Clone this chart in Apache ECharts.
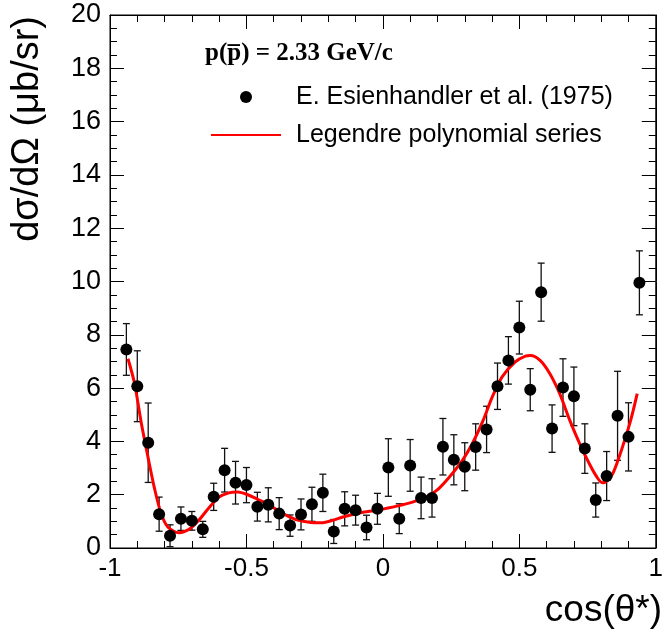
<!DOCTYPE html>
<html>
<head>
<meta charset="utf-8">
<script src="https://cdn.jsdelivr.net/npm/echarts@6/dist/echarts.min.js"></script>
<style>
html,body{margin:0;padding:0;background:#fff;}
#chart{width:666px;height:637px;}
</style>
</head>
<body>
<div id="chart"></div>
<script>
// Data
const cosTheta = [-0.94,-0.90,-0.86,-0.82,-0.78,-0.74,-0.70,-0.66,-0.62,-0.58,-0.54,-0.50,-0.46,-0.42,-0.38,-0.34,-0.30,-0.26,-0.22,-0.18,-0.14,-0.10,-0.06,-0.02,0.02,0.06,0.10,0.14,0.18,0.22,0.26,0.30,0.34,0.38,0.42,0.46,0.50,0.54,0.58,0.62,0.66,0.70,0.74,0.78,0.82,0.86,0.90,0.94];
const dsigma = [7.45,6.07,3.95,1.27,0.46,1.10,1.02,0.70,1.92,2.92,2.45,2.36,1.55,1.62,1.29,0.84,1.26,1.64,2.07,0.62,1.47,1.42,0.77,1.47,3.02,1.10,3.10,1.88,1.88,3.80,3.31,3.05,3.79,4.45,6.07,7.04,8.27,5.94,9.60,4.48,6.02,5.69,3.73,1.80,2.70,4.96,4.17,9.95];
const dsigmaErr = [0.97,1.33,1.49,0.64,0.41,0.44,0.35,0.30,0.51,0.82,0.80,0.66,0.54,0.64,0.60,0.40,0.58,0.64,0.70,0.45,0.64,0.56,0.46,0.58,1.08,0.56,0.97,0.78,0.72,1.06,0.94,0.90,0.87,0.87,0.87,0.89,0.99,0.79,1.09,0.89,1.08,1.10,0.93,0.64,0.92,1.67,1.28,1.20];
const fitX = [-0.934,-0.91,-0.885,-0.861,-0.837,-0.813,-0.789,-0.747,-0.71,-0.674,-0.638,-0.602,-0.565,-0.532,-0.493,-0.457,-0.42,-0.384,-0.348,-0.312,-0.264,-0.22,-0.19,-0.143,-0.082,-0.022,0.051,0.111,0.159,0.196,0.24,0.292,0.328,0.365,0.401,0.437,0.485,0.522,0.54,0.576,0.612,0.648,0.685,0.721,0.757,0.785,0.804,0.825,0.845,0.878,0.908,0.932];
const fitY = [7.10,6.17,4.67,3.42,2.24,1.30,0.80,0.57,0.70,1.05,1.50,1.90,2.07,2.10,1.99,1.82,1.64,1.40,1.20,1.05,0.96,0.95,1.02,1.17,1.32,1.42,1.57,1.73,1.92,2.15,2.62,3.30,3.92,4.73,5.67,6.42,6.98,7.20,7.22,7.04,6.54,5.79,4.79,3.92,3.15,2.65,2.45,2.55,2.85,3.79,4.79,5.79];
const xTicks = [-1, -0.5, 0, 0.5, 1];
const yTicks = [0, 2, 4, 6, 8, 10, 12, 14, 16, 18, 20];
const dataName = 'E. Esienhandler et al. (1975)';
const fitName = 'Legendre polynomial series';
const headerText = 'p(p\u0305) = 2.33 GeV/c';
const xTitle = 'cos(\u03b8*)';
const yTitle = 'd\u03c3/d\u03a9 (\u03bcb/sr)';

const pts = cosTheta.map((x, i) => [x, dsigma[i]]);
const errs = cosTheta.map((x, i) => [x, dsigma[i], dsigmaErr[i]]);
const fit = fitX.map((x, i) => [x, fitY[i]]);

const FONT = '"Liberation Sans", Arial, Helvetica, sans-serif';
const tickCommon = {
  axisLine: {show: true, onZero: false, lineStyle: {color: '#000', width: 1}},
  axisTick: {show: true, inside: true, length: 14, lineStyle: {color: '#000', width: 1}},
  minorTick: {show: true, length: 7, lineStyle: {color: '#000', width: 1}},
  splitLine: {show: false},
  minorSplitLine: {show: false}
};

const chart = echarts.init(document.getElementById('chart'), null, {renderer: 'canvas'});
const option = {
  animation: false,
  backgroundColor: '#fff',
  grid: {left: 110, right: 4, top: 15, bottom: 89, show: true, borderColor: '#000', borderWidth: 1},
  xAxis: [
    Object.assign({
      type: 'value', min: xTicks[0], max: xTicks[xTicks.length - 1], interval: 0.5, position: 'bottom',
      axisLabel: {show: true, fontSize: 26, color: '#000', fontFamily: FONT, margin: 8,
        formatter: v => String(v)}
    }, tickCommon, {minorTick: Object.assign({}, tickCommon.minorTick, {splitNumber: 5})}),
    Object.assign({
      type: 'value', min: xTicks[0], max: xTicks[xTicks.length - 1], interval: 0.5, position: 'top',
      axisLabel: {show: false}
    }, tickCommon, {minorTick: Object.assign({}, tickCommon.minorTick, {splitNumber: 5})})
  ],
  yAxis: [
    Object.assign({
      type: 'value', min: yTicks[0], max: yTicks[yTicks.length - 1], interval: 2, position: 'left',
      axisLabel: {show: true, fontSize: 27, color: '#000', fontFamily: FONT, margin: 9}
    }, tickCommon, {minorTick: Object.assign({}, tickCommon.minorTick, {splitNumber: 4})}),
    Object.assign({
      type: 'value', min: yTicks[0], max: yTicks[yTicks.length - 1], interval: 2, position: 'right',
      axisLabel: {show: false}
    }, tickCommon, {minorTick: Object.assign({}, tickCommon.minorTick, {splitNumber: 4})})
  ],
  legend: {
    orient: 'vertical', left: 205, top: 79, itemWidth: 70, itemHeight: 12, itemGap: 12,
    data: [
      {name: dataName},
      {name: fitName, itemStyle: {opacity: 0, color: 'rgba(0,0,0,0)', borderWidth: 0}}
    ],
    textStyle: {fontSize: 25, fontFamily: FONT, color: '#000', lineHeight: 26, padding: [0, 0, 0, 10]},
    selectedMode: false
  },
  graphic: [
    {type: 'text', left: 205, top: 41, style: {text: headerText, font: 'bold 25px "Liberation Serif", "Times New Roman", serif', fill: '#000'}},
    {type: 'text', x: 662, y: 611, style: {text: xTitle, font: '37px ' + FONT, fill: '#000', align: 'right', verticalAlign: 'middle'}},
    {type: 'text', x: 28, y: 16, rotation: Math.PI / 2, style: {text: yTitle, font: '38px ' + FONT, fill: '#000', align: 'right', verticalAlign: 'middle'}}
  ],
  series: [
    {
      type: 'custom', name: 'errors', z: 2, data: errs, silent: true, clip: true,
      renderItem: function (params, api) {
        const x = api.value(0), y = api.value(1), e = api.value(2);
        const lo = api.coord([x, y - e]);
        const hi = api.coord([x, y + e]);
        const cap = 3.5;
        const st = {stroke: '#111', lineWidth: 1.3};
        return {
          type: 'group',
          children: [
            {type: 'line', shape: {x1: lo[0], y1: lo[1], x2: hi[0], y2: hi[1]}, style: st},
            {type: 'line', shape: {x1: lo[0] - cap, y1: lo[1], x2: lo[0] + cap, y2: lo[1]}, style: st},
            {type: 'line', shape: {x1: hi[0] - cap, y1: hi[1], x2: hi[0] + cap, y2: hi[1]}, style: st}
          ]
        };
      }
    },
    {
      type: 'line', name: fitName, data: fit, smooth: 0.3, symbol: 'none', z: 3,
      lineStyle: {color: '#ff0000', width: 3}, itemStyle: {color: '#ff0000'}
    },
    {
      type: 'scatter', name: dataName, data: pts, symbol: 'circle', symbolSize: 12, z: 4,
      itemStyle: {color: '#000', opacity: 1}
    }
  ]
};
chart.setOption(option);
</script>
</body>
</html>
